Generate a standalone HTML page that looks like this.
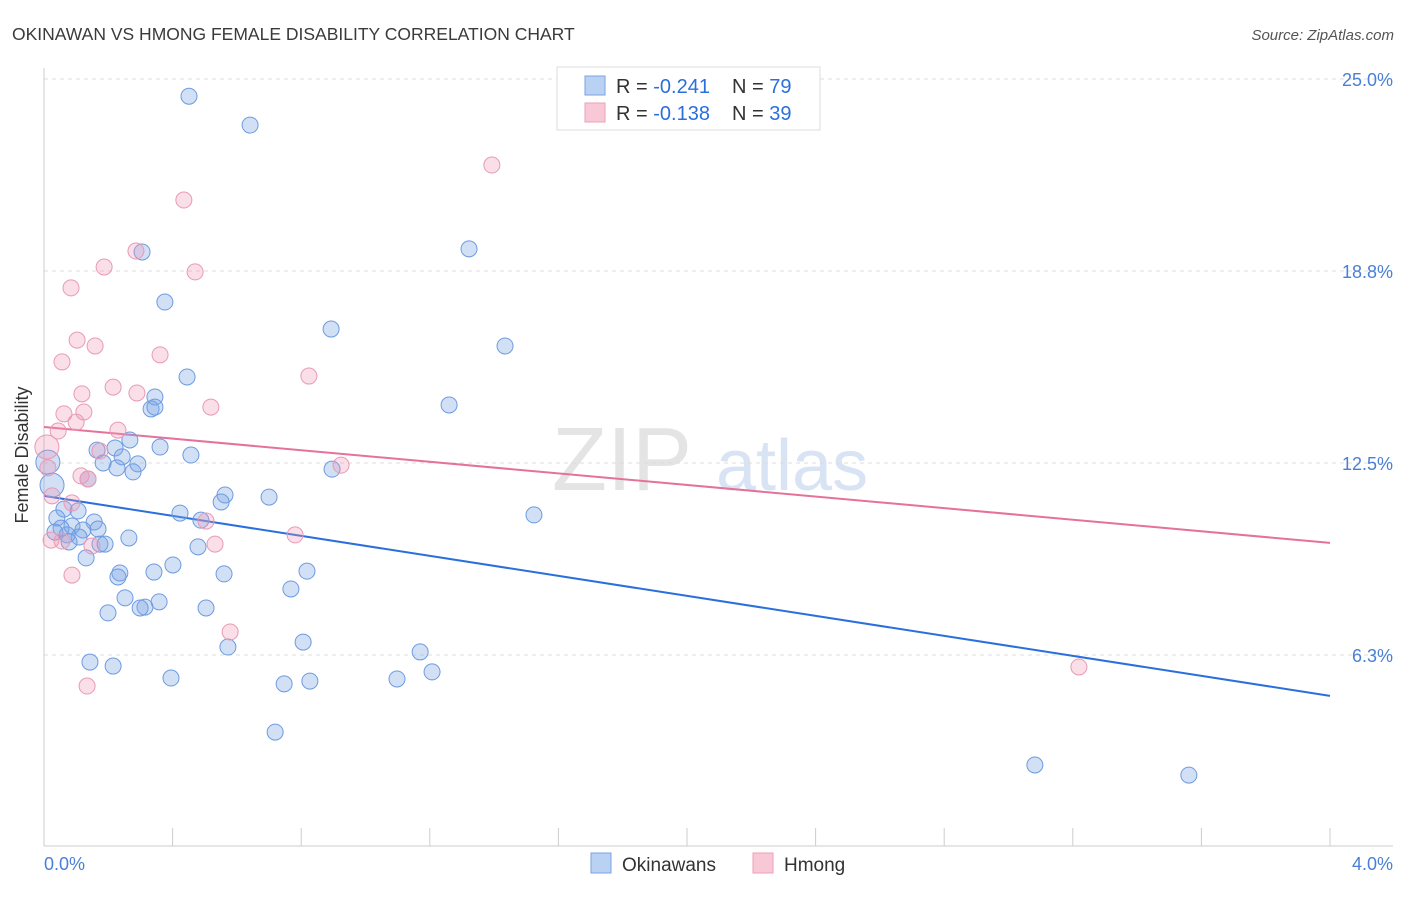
<!DOCTYPE html>
<html><head><meta charset="utf-8"><style>
body{margin:0;background:#fff;font-family:"Liberation Sans",sans-serif;}
svg text{font-family:"Liberation Sans",sans-serif;}
</style></head><body>
<svg id="chart" width="1406" height="892" xmlns="http://www.w3.org/2000/svg">
<text x="12" y="40" font-size="17.5" fill="#3a3a3a">OKINAWAN VS HMONG FEMALE DISABILITY CORRELATION CHART</text>
<text x="1394" y="40" font-size="15" fill="#555" font-style="italic" text-anchor="end">Source: ZipAtlas.com</text>
<g><text x="552" y="490" font-size="90" fill="#e4e4e4" font-family="Liberation Serif">ZIP</text><text x="716" y="490" font-size="72" fill="#d8e4f4">atlas</text></g>
<g id="grid"></g><g id="axes"></g><g id="lines"></g><g id="pts"></g>
<text x="28" y="455" font-size="18" fill="#333" transform="rotate(-90 28 455)" text-anchor="middle">Female Disability</text>
<text x="44" y="870" font-size="18" fill="#4a7fd6">0.0%</text>
<text x="1393" y="870" font-size="18" fill="#4a7fd6" text-anchor="end">4.0%</text>
<g>
<rect x="557" y="67" width="263" height="63" fill="#fff" stroke="#ddd"/>
<rect x="585" y="76" width="20" height="19" fill="#b9d1f3" stroke="#7aa3e0"/>
<text x="616" y="93" font-size="20" fill="#333">R = <tspan fill="#2a6fdb">-0.241</tspan></text>
<text x="732" y="93" font-size="20" fill="#333">N = <tspan fill="#2a6fdb">79</tspan></text>
<rect x="585" y="103" width="20" height="19" fill="#f8c8d7" stroke="#eba0b8"/>
<text x="616" y="120" font-size="20" fill="#333">R = <tspan fill="#2a6fdb">-0.138</tspan></text>
<text x="732" y="120" font-size="20" fill="#333">N = <tspan fill="#2a6fdb">39</tspan></text>
</g>
<g>
<rect x="591" y="853" width="20" height="20" fill="#b9d1f3" stroke="#7aa3e0"/>
<text x="622" y="871" font-size="19" fill="#333">Okinawans</text>
<rect x="753" y="853" width="20" height="20" fill="#f8c8d7" stroke="#eba0b8"/>
<text x="784" y="871" font-size="19" fill="#333">Hmong</text>
</g>
</svg>
<script>
const yTicks=[25,18.75,12.5,6.25];
const yTickLabels=["25.0%","18.8%","12.5%","6.3%"];
const xTicks=[0,0.4,0.8,1.2,1.6,2.0,2.4,2.8,3.2,3.6,4.0];
const blueX=[.451,.641,.305,1.322,.376,.893,1.434,.445,.345,.333,.345,1.260,.361,.267,.165,.221,.243,.184,.227,.277,.292,.457,.896,.137,.025,.012,.700,.563,.551,.062,.106,.423,.488,.156,1.524,.040,.087,.053,.121,.168,.034,.072,.109,.078,.174,.190,.264,.479,.131,.401,.342,.236,.230,.560,.818,.768,.252,.358,.314,.299,.199,.504,.806,.572,1.170,.143,.215,1.207,.395,.747,.827,1.098,.719,3.082,3.561];
const blueY=[24.44,23.50,19.37,19.47,17.74,16.86,16.31,15.30,14.65,14.26,14.32,14.39,13.02,13.25,12.92,12.99,12.70,12.50,12.34,12.21,12.47,12.76,12.30,11.98,11.78,12.53,11.39,11.46,11.23,11.00,10.94,10.87,10.64,10.58,10.81,10.71,10.45,10.38,10.32,10.35,10.25,10.16,10.09,9.93,9.86,9.86,10.06,9.77,9.41,9.18,8.95,8.92,8.79,8.89,8.98,8.40,8.11,7.98,7.81,7.78,7.62,7.78,6.67,6.51,6.35,6.02,5.89,5.70,5.50,5.31,5.40,5.47,3.74,2.67,2.34];
const blueBig=[24,25];
const pinkX=[1.393,.435,.286,.187,.470,.084,.103,.159,.361,.056,.824,.118,.215,.289,.519,.062,.124,.100,.044,.230,.009,.174,.115,.137,.924,.012,.025,.087,.504,.781,.022,.056,.149,.532,.087,.579,.134,3.219];
const pinkY=[22.20,21.06,19.40,18.88,18.72,18.20,16.50,16.31,16.02,15.79,15.33,14.75,14.97,14.78,14.32,14.10,14.16,13.83,13.54,13.57,13.02,12.89,12.08,11.98,12.43,12.34,11.43,11.20,10.61,10.16,9.99,9.96,9.80,9.86,8.85,7.00,5.24,5.86];
const pinkBig=[20];
const blueTrend=[11.43,4.92];
const pinkTrend=[13.67,9.90];
const NS="http://www.w3.org/2000/svg";
const X=v=>44+v*321.5, Y=v=>847-v*30.72;
function mk(t,a,p){const e=document.createElementNS(NS,t);for(const k in a)e.setAttribute(k,a[k]);p.appendChild(e);return e;}
const grid=document.getElementById('grid'),axes=document.getElementById('axes'),lines=document.getElementById('lines'),pts=document.getElementById('pts');
yTicks.forEach((t,i)=>{
 const l=mk('line',{x1:44,x2:1393,y1:Y(t),y2:Y(t),stroke:'#ddd','stroke-dasharray':'4,4'},grid);
 
 
 const tx=mk('text',{x:1393,y:Y(t)+7,'font-size':18,fill:'#4a7fd6','text-anchor':'end'},grid);
 tx.textContent=yTickLabels[i];
 
 
});
const ya=mk('line',{x1:44,x2:44,y1:68,y2:846,stroke:'#ccc'},axes);


const xa=mk('line',{x1:44,x2:1393,y1:846,y2:846,stroke:'#ccc'},axes);


xTicks.forEach(t=>{
 const k=mk('line',{x1:X(t),x2:X(t),y1:828,y2:846,stroke:'#ccc'},axes);
 
 
});
function dots(xs,ys,big,fill,stroke,name){xs.forEach((x,i)=>{
 const c=mk('circle',{cx:X(x),cy:Y(ys[i]),r:big.includes(i)?12:8,fill:fill,stroke:stroke,'stroke-width':1},pts);
 
 
});}
dots(blueX,blueY,blueBig,'rgba(125,165,230,0.35)','#6d9be0','okinawan-point');
dots(pinkX,pinkY,pinkBig,'rgba(240,150,180,0.3)','#e89ab5','hmong-point');
const bl=mk('line',{x1:X(0),x2:X(4),y1:Y(blueTrend[0]),y2:Y(blueTrend[1]),stroke:'#2a6fdb','stroke-width':2},lines);


const pl=mk('line',{x1:X(0),x2:X(4),y1:Y(pinkTrend[0]),y2:Y(pinkTrend[1]),stroke:'#e5729a','stroke-width':2},lines);


</script>
</body></html>
